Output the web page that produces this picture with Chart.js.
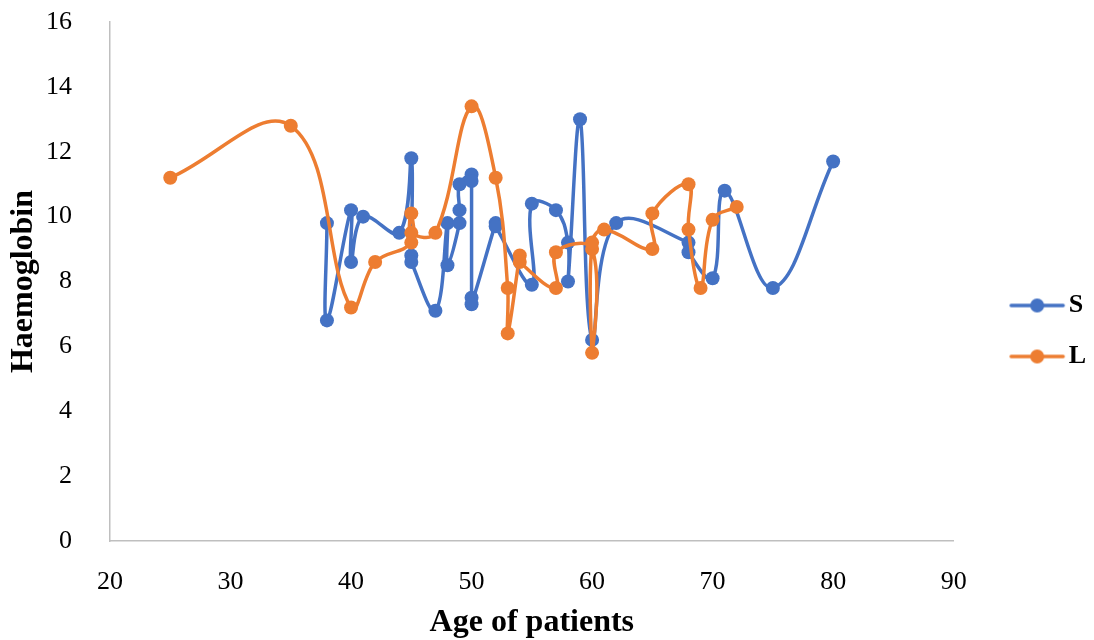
<!DOCTYPE html>
<html>
<head>
<meta charset="utf-8">
<script src="https://cdn.jsdelivr.net/npm/chart.js@4"></script>
<style>
  body { margin: 0; background: #fff; }
  #wrap { width: 1094px; height: 640px; }
</style>
</head>
<body>
<div id="wrap"><canvas id="chart" width="1094" height="640"></canvas></div>
<script>
// donnees (age, hemoglobine) dans l'ordre des points
const ageS = [38, 38, 40, 40, 41, 44, 45, 45, 45, 47, 48, 48, 49, 49, 49, 50, 50, 50, 50, 52, 52, 55, 55, 57, 58, 58, 59, 60, 62, 68, 68, 70, 71, 75, 80];
const hbS  = [9.8, 6.8, 10.2, 8.6, 10.0, 9.5, 11.8, 8.8, 8.6, 7.1, 9.8, 8.5, 9.8, 10.2, 11.0, 11.3, 11.1, 7.5, 7.3, 9.8, 9.7, 7.9, 10.4, 10.2, 9.2, 8.0, 13.0, 6.2, 9.8, 9.2, 8.9, 8.1, 10.8, 7.8, 11.7];

const ageL = [25, 35, 40, 42, 45, 45, 45, 47, 50, 52, 53, 53, 54, 54, 57, 57, 60, 60, 60, 61, 65, 65, 68, 68, 69, 70, 72];
const hbL  = [11.2, 12.8, 7.2, 8.6, 9.2, 10.1, 9.5, 9.5, 13.4, 11.2, 7.8, 6.4, 8.8, 8.6, 7.8, 8.9, 9.0, 5.8, 9.2, 9.6, 9.0, 10.1, 11.0, 9.6, 7.8, 9.9, 10.3];

const seriesNames = ["S", "L"];
const xTicks = [20, 30, 40, 50, 60, 70, 80, 90];
const yTicks = [0, 2, 4, 6, 8, 10, 12, 14, 16];

const blue = "#4472c4";
const orange = "#ed7d31";
const serif = "'Liberation Serif', 'Times New Roman', serif";

function toPoints(xs, ys) {
  return xs.map(function (x, i) { return { x: x, y: ys[i] }; });
}

// petit dessin ligne + rond pour la legende
function legendMark(color) {
  const c = document.createElement("canvas");
  c.width = 100; c.height = 16;
  const g = c.getContext("2d");
  g.strokeStyle = color;
  g.lineWidth = 3.5;
  g.lineCap = "round";
  g.beginPath();
  g.moveTo(44, 8); g.lineTo(96, 8);
  g.stroke();
  g.fillStyle = color;
  g.beginPath();
  g.arc(70, 8, 7, 0, Math.PI * 2);
  g.fill();
  return c;
}

const marks = [legendMark(blue), legendMark(orange)];

new Chart(document.getElementById("chart"), {
  type: "scatter",
  data: {
    datasets: [
      {
        label: seriesNames[0],
        data: toPoints(ageS, hbS),
        showLine: true,
        tension: 0.4,
        borderColor: blue,
        backgroundColor: blue,
        borderWidth: 3.5,
        pointRadius: 7,
        pointHoverRadius: 7,
        pointBorderWidth: 0,
        order: 2
      },
      {
        label: seriesNames[1],
        data: toPoints(ageL, hbL),
        showLine: true,
        tension: 0.4,
        borderColor: orange,
        backgroundColor: orange,
        borderWidth: 3.5,
        pointRadius: 7,
        pointHoverRadius: 7,
        pointBorderWidth: 0,
        order: 1
      }
    ]
  },
  options: {
    responsive: false,
    animation: false,
    layout: { padding: { top: 22, right: -2, bottom: 0, left: 0 } },
    plugins: {
      tooltip: { enabled: false },
      legend: {
        position: "right",
        align: "center",
        labels: {
          usePointStyle: true,
          pointStyleWidth: 77,
          boxHeight: 14,
          padding: 25,
          color: "#000",
          font: { family: serif, size: 26, weight: "bold" },
          generateLabels: function (chart) {
            return chart.data.datasets.map(function (ds, i) {
              return {
                text: ds.label,
                fillStyle: ds.borderColor,
                strokeStyle: ds.borderColor,
                lineWidth: 0,
                pointStyle: marks[i],
                datasetIndex: i,
                hidden: false,
                fontColor: "#000"
              };
            });
          }
        }
      }
    },
    scales: {
      x: {
        type: "linear",
        min: 20,
        max: 90,
        afterBuildTicks: function (s) { s.ticks = xTicks.map(function (v) { return { value: v }; }); },
        afterFit: function (s) { s.height = 99; },
        grid: { display: false },
        border: { color: "#bfbfbf", width: 1.5 },
        ticks: { color: "#000", padding: 18, font: { family: serif, size: 26 } },
        title: {
          display: true,
          text: "Age of patients",
          color: "#000",
          padding: 1,
          font: { family: serif, size: 32, weight: "bold", lineHeight: 1 }
        }
      },
      y: {
        min: 0,
        max: 16,
        afterBuildTicks: function (s) { s.ticks = yTicks.map(function (v) { return { value: v }; }); },
        afterFit: function (s) {
          s.width = 110;
          s.paddingTop = 0;
          s.paddingBottom = 0;
        },
        grid: { display: false },
        border: { color: "#bfbfbf", width: 1.5 },
        ticks: { color: "#000", padding: 30, font: { family: serif, size: 26 } },
        title: {
          display: true,
          text: "Haemoglobin",
          color: "#000",
          padding: 5,
          font: { family: serif, size: 32, weight: "bold", lineHeight: 1.2 }
        }
      }
    }
  }
});
</script>
</body>
</html>
